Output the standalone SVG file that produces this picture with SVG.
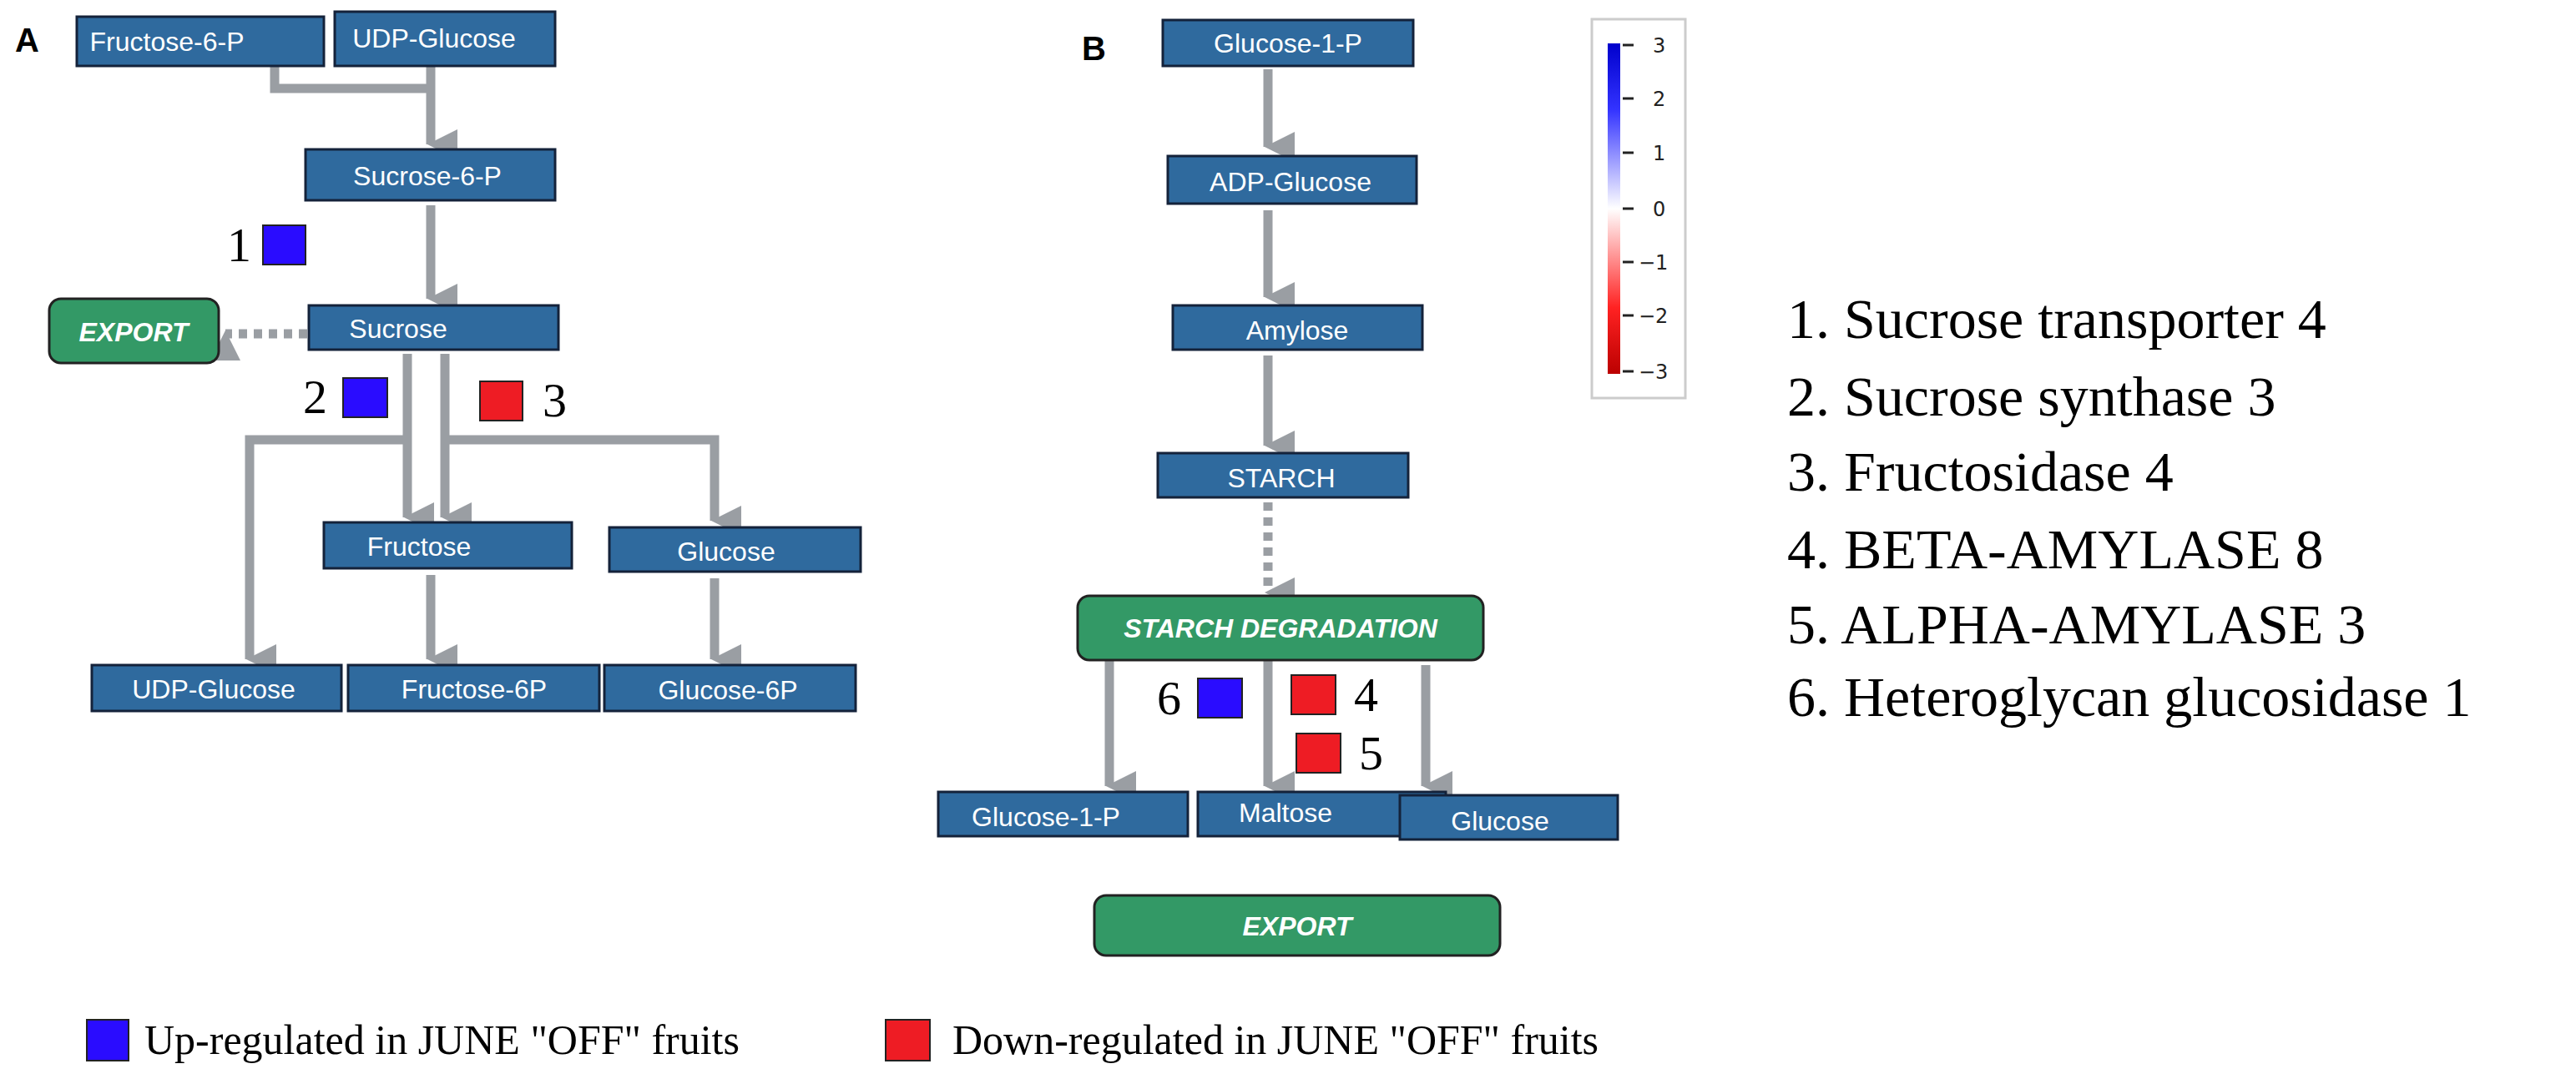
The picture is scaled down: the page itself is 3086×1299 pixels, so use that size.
<svg xmlns="http://www.w3.org/2000/svg" width="3086" height="1299" viewBox="0 0 3086 1299">
<defs>
<style>
.n{fill:#2f6a9e;stroke:#14223a;stroke-width:3}
.g{fill:#339966;stroke:#222;stroke-width:3}
.t{font-family:"Liberation Sans",Arial,sans-serif;font-size:32px;fill:#fff;text-anchor:middle}
.gt{font-family:"Liberation Sans",Arial,sans-serif;font-size:32px;fill:#fff;text-anchor:middle;font-weight:bold;font-style:italic}
.c{stroke:#9a9ea3;stroke-width:11;fill:none}
.d{stroke:#9a9ea3;stroke-width:11;fill:none;stroke-dasharray:10 8}
.num{font-family:"Liberation Serif","Times New Roman",serif;font-size:58px;fill:#000}
.lst{font-family:"Liberation Serif","Times New Roman",serif;font-size:68px;fill:#000}
.leg{font-family:"Liberation Serif","Times New Roman",serif;font-size:50px;fill:#000}
.up{fill:#2a0cff;stroke:#222;stroke-width:2}
.dn{fill:#ee1c24;stroke:#222;stroke-width:2}
.lab{font-family:"Liberation Sans",Arial,sans-serif;font-size:40px;font-weight:bold;fill:#000}
.sc{font-family:"DejaVu Sans",sans-serif;font-size:24px;fill:#222}
</style>
<marker id="ah" markerUnits="userSpaceOnUse" markerWidth="40" markerHeight="40" viewBox="0 0 40 40" refX="20" refY="34" orient="auto-start-reverse">
<polygon points="2,2 38,2 20,38" fill="#9a9ea3"/>
</marker>
<marker id="ahl" markerUnits="userSpaceOnUse" markerWidth="40" markerHeight="40" viewBox="0 0 40 40" refX="34" refY="20" orient="0">
<polygon points="38,2 38,38 2,20" fill="#9a9ea3" transform="rotate(180 20 20)"/>
</marker>
<linearGradient id="cb" x1="0" y1="0" x2="0" y2="1">
<stop offset="0" stop-color="#0000cc"/>
<stop offset="0.2" stop-color="#3333ff"/>
<stop offset="0.5" stop-color="#ffffff"/>
<stop offset="0.8" stop-color="#ff2222"/>
<stop offset="1" stop-color="#bb0000"/>
</linearGradient>
</defs>
<rect width="3086" height="1299" fill="#fff"/>
<text class="lab" x="18" y="62">A</text>
<text class="lab" x="1296" y="72">B</text>

<g id="connectors">
<path class="c" d="M329,80 V106 H516"/>
<path class="c" d="M516,80 V173" marker-end="url(#ah)"/>
<path class="c" d="M516,246 V358" marker-end="url(#ah)"/>
<path class="d" d="M368,400 H270" marker-end="url(#ah)"/>
<path class="c" d="M488,424 V620" marker-end="url(#ah)"/>
<path class="c" d="M533,424 V620" marker-end="url(#ah)"/>
<path class="c" d="M488,527 H299 V790" marker-end="url(#ah)"/>
<path class="c" d="M533,527 H856 V624" marker-end="url(#ah)"/>
<path class="c" d="M516,689 V790" marker-end="url(#ah)"/>
<path class="c" d="M856,693 V790" marker-end="url(#ah)"/>
<path class="c" d="M1519,83 V176" marker-end="url(#ah)"/>
<path class="c" d="M1519,252 V356" marker-end="url(#ah)"/>
<path class="c" d="M1519,426 V534" marker-end="url(#ah)"/>
<path class="d" d="M1519,602 V710" marker-end="url(#ah)"/>
<path class="c" d="M1329,791 V942" marker-end="url(#ah)"/>
<path class="c" d="M1519,791 V942" marker-end="url(#ah)"/>
<path class="c" d="M1708,797 V942" marker-end="url(#ah)"/>
</g>

<g id="n-fru6p"><rect class="n" x="92" y="20" width="296" height="59"/><text class="t" x="200" y="61">Fructose-6-P</text></g>
<g id="n-udpg"><rect class="n" x="401" y="14" width="264" height="65"/><text class="t" x="520" y="57">UDP-Glucose</text></g>
<g id="n-suc6p"><rect class="n" x="366" y="179" width="299" height="61"/><text class="t" x="512" y="222">Sucrose-6-P</text></g>
<g id="n-suc"><rect class="n" x="370" y="366" width="299" height="53"/><text class="t" x="477" y="405">Sucrose</text></g>
<g id="n-exportA"><rect class="g" x="59" y="358" width="203" height="77" rx="14"/><text class="gt" x="160" y="409">EXPORT</text></g>
<g id="n-fru"><rect class="n" x="388" y="626" width="297" height="55"/><text class="t" x="502" y="666">Fructose</text></g>
<g id="n-glc"><rect class="n" x="730" y="632" width="301" height="53"/><text class="t" x="870" y="672">Glucose</text></g>
<g id="n-udpg2"><rect class="n" x="110" y="797" width="299" height="55"/><text class="t" x="256" y="837">UDP-Glucose</text></g>
<g id="n-fru6p2"><rect class="n" x="417" y="797" width="301" height="55"/><text class="t" x="568" y="837">Fructose-6P</text></g>
<g id="n-glc6p"><rect class="n" x="724" y="797" width="301" height="55"/><text class="t" x="872" y="838">Glucose-6P</text></g>

<g id="m1"><rect class="up" x="315" y="270" width="51" height="47"/><text class="num" x="272" y="313">1</text></g>
<g id="m2"><rect class="up" x="411" y="453" width="53" height="47"/><text class="num" x="363" y="495">2</text></g>
<g id="m3"><rect class="dn" x="575" y="457" width="51" height="47"/><text class="num" x="650" y="499">3</text></g>

<g id="n-g1p"><rect class="n" x="1393" y="24" width="300" height="55"/><text class="t" x="1543" y="63">Glucose-1-P</text></g>
<g id="n-adpg"><rect class="n" x="1399" y="187" width="298" height="57"/><text class="t" x="1546" y="229">ADP-Glucose</text></g>
<g id="n-amy"><rect class="n" x="1405" y="366" width="299" height="53"/><text class="t" x="1554" y="407">Amylose</text></g>
<g id="n-starch"><rect class="n" x="1387" y="543" width="300" height="53"/><text class="t" x="1535" y="584">STARCH</text></g>
<g id="n-sdeg"><rect class="g" x="1291" y="714" width="486" height="77" rx="14"/><text class="gt" x="1534" y="764">STARCH DEGRADATION</text></g>
<g id="n-g1p2"><rect class="n" x="1124" y="949" width="299" height="53"/><text class="t" x="1253" y="990">Glucose-1-P</text></g>
<g id="n-mal"><rect class="n" x="1435" y="949" width="297" height="53"/><text class="t" x="1540" y="985">Maltose</text></g>
<g id="n-glc2"><rect class="n" x="1677" y="953" width="261" height="53"/><text class="t" x="1797" y="995">Glucose</text></g>
<g id="n-exportB"><rect class="g" x="1311" y="1073" width="486" height="72" rx="14"/><text class="gt" x="1554" y="1121">EXPORT</text></g>

<g id="m6"><rect class="up" x="1435" y="813" width="53" height="47"/><text class="num" x="1386" y="856">6</text></g>
<g id="m4"><rect class="dn" x="1547" y="809" width="53" height="47"/><text class="num" x="1622" y="852">4</text></g>
<g id="m5"><rect class="dn" x="1553" y="879" width="53" height="47"/><text class="num" x="1628" y="922">5</text></g>

<g id="colorbar">
<rect x="1907" y="23" width="112" height="454" fill="#fff" stroke="#ccc" stroke-width="3"/>
<rect x="1926" y="52" width="15" height="396" fill="url(#cb)"/>
<g stroke="#222" stroke-width="3">
<line x1="1944" y1="54" x2="1957" y2="54"/><line x1="1944" y1="118" x2="1957" y2="118"/><line x1="1944" y1="183" x2="1957" y2="183"/><line x1="1944" y1="250" x2="1957" y2="250"/><line x1="1944" y1="314" x2="1957" y2="314"/><line x1="1944" y1="378" x2="1957" y2="378"/><line x1="1944" y1="445" x2="1957" y2="445"/>
</g>
<text class="sc" x="1980" y="63">3</text>
<text class="sc" x="1980" y="127">2</text>
<text class="sc" x="1980" y="192">1</text>
<text class="sc" x="1980" y="259">0</text>
<text class="sc" x="1963" y="323">−1</text>
<text class="sc" x="1963" y="387">−2</text>
<text class="sc" x="1963" y="454">−3</text>
</g>

<g id="list">
<text class="lst" x="2141" y="405">1. Sucrose transporter 4</text>
<text class="lst" x="2141" y="498">2. Sucrose synthase 3</text>
<text class="lst" x="2141" y="588">3. Fructosidase 4</text>
<text class="lst" x="2141" y="681">4. BETA-AMYLASE 8</text>
<text class="lst" x="2141" y="771">5. ALPHA-AMYLASE 3</text>
<text class="lst" x="2141" y="858">6. Heteroglycan glucosidase 1</text>
</g>

<g id="legend">
<rect class="up" x="104" y="1222" width="50" height="49"/>
<text class="leg" x="173" y="1263">Up-regulated in JUNE "OFF" fruits</text>
<rect class="dn" x="1061" y="1222" width="53" height="49"/>
<text class="leg" x="1141" y="1263">Down-regulated in JUNE "OFF" fruits</text>
</g>
</svg>
